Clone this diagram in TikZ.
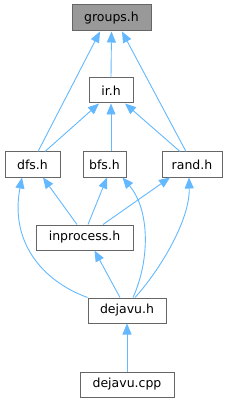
\documentclass[tikz,border=0pt]{standalone}
\usepackage{fontspec}
\setmainfont{DejaVu Sans}
\usetikzlibrary{arrows.meta}
\definecolor{edgeblue}{HTML}{63B8FF}
\definecolor{boxborder}{HTML}{666666}
\definecolor{rootfill}{HTML}{999999}
\begin{document}
\begin{tikzpicture}[x=1pt,y=-1pt,
  filebox/.style={draw=boxborder,fill=white,line width=1pt,inner sep=0pt,
    minimum height=25pt,font=\fontsize{12.5}{14}\selectfont},
  rootbox/.style={filebox,fill=rootfill},
  edge/.style={draw=edgeblue,line width=0.9pt,-{Triangle[length=11pt,width=9pt]}}]
\useasboundingbox (0,0) rectangle (231,403);
\node[rootbox,minimum width=79pt,minimum height=26pt] (groups) at (111.5,18) {groups.h};
\node[filebox,minimum width=44pt] (ir) at (111,90.5) {ir.h};
\node[filebox,minimum width=55pt] (dfs) at (32.5,164.5) {dfs.h};
\node[filebox,minimum width=43pt] (bfs) at (104.5,164.5) {bfs.h};
\node[filebox,minimum width=60pt] (rand) at (192,164.5) {rand.h};
\node[filebox,minimum width=97pt] (inprocess) at (84.5,237.5) {inprocess.h};
\node[filebox,minimum width=78pt] (dejavu) at (127,310.5) {dejavu.h};
\node[filebox,minimum width=94pt] (dejavucpp) at (127,384.5) {dejavu.cpp};
% edges
\draw[edge] (ir.north) -- (groups.south);
\draw[edge] ([xshift=5.5pt]dfs.north) -- ([xshift=-11.5pt]groups.south);
\draw[edge] ([xshift=-6pt]rand.north) -- ([xshift=10.5pt]groups.south);
\draw[edge] ([xshift=12.5pt]dfs.north) -- ([xshift=-12pt]ir.south);
\draw[edge] ([xshift=6.5pt]bfs.north) -- (ir.south);
\draw[edge] ([xshift=-12pt]rand.north) -- ([xshift=14pt]ir.south);
\draw[edge] ([xshift=-7.5pt]inprocess.north) -- ([xshift=10.5pt]dfs.south);
\draw[edge] ([xshift=3.5pt]inprocess.north) -- ([xshift=2.5pt]bfs.south);
\draw[edge] ([xshift=18.5pt]inprocess.north) -- ([xshift=-22pt]rand.south);
\draw[edge] ([xshift=-7pt]dejavu.north) -- ([xshift=10pt]inprocess.south);
\draw[edge] (dejavu.north west) .. controls (40,280) and (10,240) .. ([xshift=-10.5pt]dfs.south);
\draw[edge] ([xshift=6pt]dejavu.north) .. controls (150,260) and (150,210) .. ([xshift=18pt]bfs.south);
\draw[edge] ([xshift=8pt]dejavu.north) .. controls (160,270) and (190,220) .. ([xshift=-3pt]rand.south);
\draw[edge] (dejavucpp.north) -- (dejavu.south);
\end{tikzpicture}
\end{document}
